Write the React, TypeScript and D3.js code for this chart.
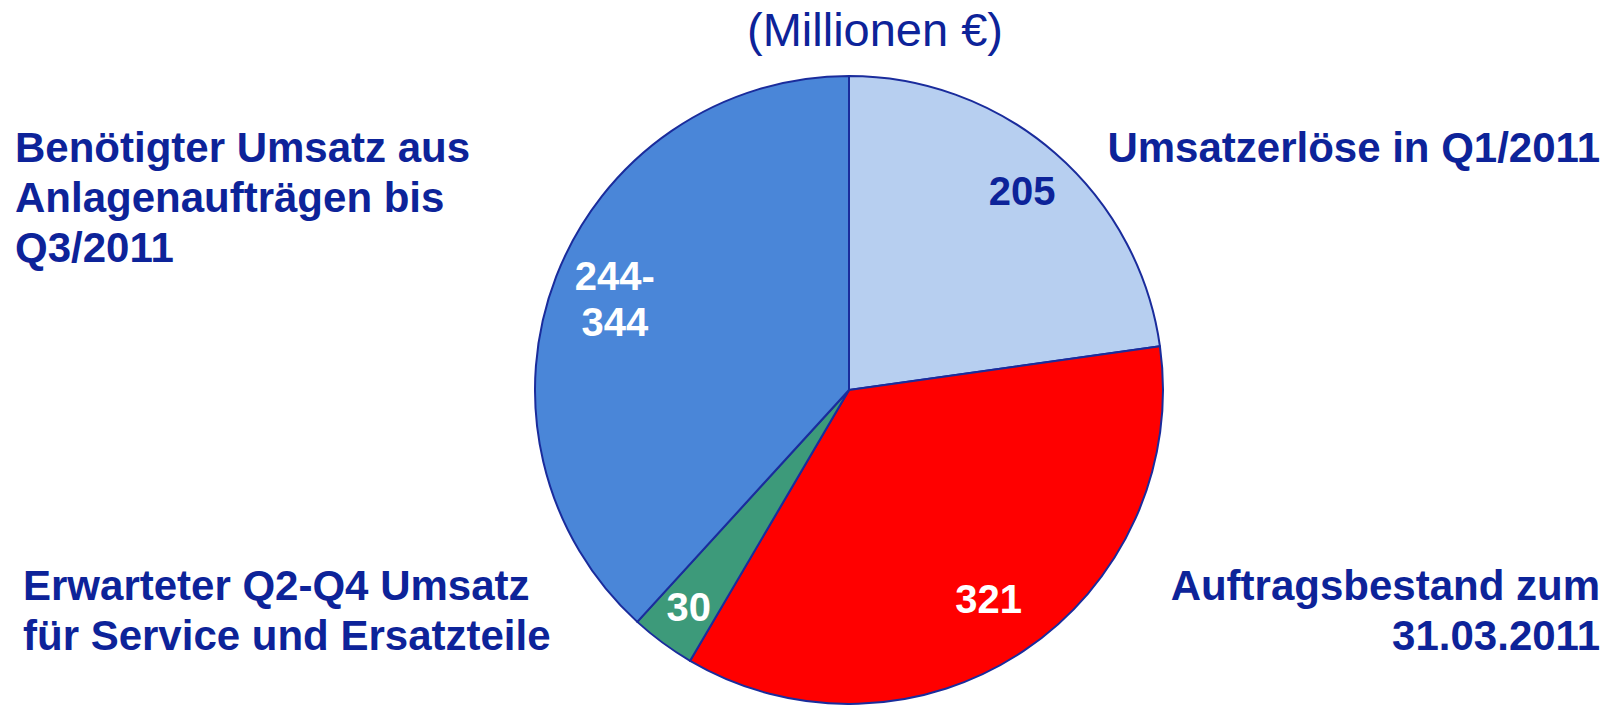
import React, { useEffect, useRef } from 'react';
import * as d3 from 'd3';

// slices, clockwise from 12 o'clock (Millionen €)
const sliceKeys = ['q1', 'backlog', 'service', 'needed'];
const sliceValues = [205, 321, 30, 344];
const sliceLabels = [['205'], ['321'], ['30'], ['244-', '344']];
const sliceColors = ['#B7CFF0', '#FF0000', '#3D9A7A', '#4A86D8'];
const sliceTextColors = ['#0D2399', '#FFFFFF', '#FFFFFF', '#FFFFFF'];

const title = '(Millionen €)';
const captionLeftTop = ['Benötigter Umsatz aus', 'Anlagenaufträgen bis', 'Q3/2011'];
const captionRightTop = ['Umsatzerlöse in Q1/2011'];
const captionLeftBottom = ['Erwarteter Q2-Q4 Umsatz', 'für Service und Ersatzteile'];
const captionRightBottom = ['Auftragsbestand zum', '31.03.2011'];

const W = 1618;
const H = 705;
const FONT = '"Liberation Sans", Arial, sans-serif';
const NAVY = '#0D2399';

export default function App() {
    const svgRef = useRef<SVGSVGElement | null>(null);

    useEffect(() => {
        const svg = d3.select(svgRef.current);
        svg.selectAll('*').remove();

        const cx = 849;
        const cy = 390;
        const radius = 314;

        const pie = d3.pie<number>().sort(null).value(d => d);
        const arcs = pie(sliceValues);
        const arc = d3.arc<d3.PieArcDatum<number>>().innerRadius(0).outerRadius(radius);

        const g = svg.append('g').attr('transform', `translate(${cx},${cy})`);

        g.selectAll('path.slice')
            .data(arcs)
            .enter().append('path')
            .attr('class', (d, i) => 'slice ' + sliceKeys[i])
            .attr('d', arc)
            .attr('fill', (d, i) => sliceColors[i])
            .attr('stroke', '#1A2C9C')
            .attr('stroke-width', 2)
            .attr('stroke-linejoin', 'round');

        // labels sit a bit inside the rim, each slice a little different
        const labelRadius = [0.84, 0.8, 0.86, 0.8];
        const lineGap = 46;
        arcs.forEach((d, i) => {
            const mid = (d.startAngle + d.endAngle) / 2;
            const r = radius * labelRadius[i];
            const x = Math.sin(mid) * r;
            const y = -Math.cos(mid) * r;
            const lines = sliceLabels[i];
            const t = g.append('text')
                .attr('text-anchor', 'middle')
                .attr('font-family', FONT)
                .attr('font-weight', 'bold')
                .attr('font-size', 40)
                .attr('fill', sliceTextColors[i]);
            lines.forEach((line, j) => {
                t.append('tspan')
                    .attr('x', x)
                    .attr('y', y + 14 + (j - (lines.length - 1) / 2) * lineGap)
                    .text(line);
            });
        });

        svg.append('text')
            .attr('x', 875)
            .attr('y', 46)
            .attr('text-anchor', 'middle')
            .attr('font-family', FONT)
            .attr('font-size', 47)
            .attr('fill', NAVY)
            .text(title);

        const caption = (lines: string[], x: number, y0: number, anchor: string) => {
            const t = svg.append('text')
                .attr('text-anchor', anchor)
                .attr('font-family', FONT)
                .attr('font-weight', 'bold')
                .attr('font-size', 42)
                .attr('fill', NAVY);
            lines.forEach((line, j) => {
                t.append('tspan').attr('x', x).attr('y', y0 + j * 50).text(line);
            });
        };

        caption(captionLeftTop, 15, 162, 'start');
        caption(captionRightTop, 1600, 162, 'end');
        caption(captionLeftBottom, 23, 600, 'start');
        caption(captionRightBottom, 1600, 600, 'end');
    }, []);

    return (
        <svg ref={svgRef} width={W} height={H}
            style={{ position: 'absolute', left: 0, top: 0, background: '#fff' }} />
    );
}
